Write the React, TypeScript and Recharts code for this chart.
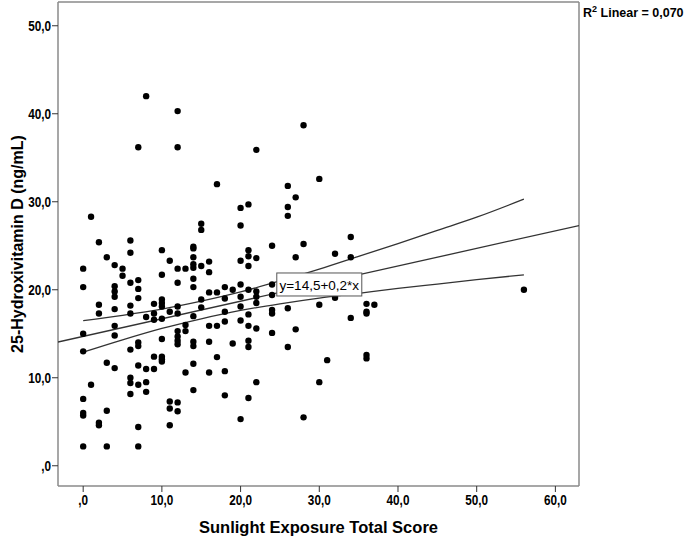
import React from 'react';
import { ScatterChart, Scatter, XAxis, YAxis, ReferenceLine, ReferenceDot, Label } from 'recharts';

const xTicks = [0, 10, 20, 30, 40, 50, 60];
const xTickLabels = [',0', '10,0', '20,0', '30,0', '40,0', '50,0', '60,0'];
const yTicks = [0, 10, 20, 30, 40, 50];
const yTickLabels = [',0', '10,0', '20,0', '30,0', '40,0', '50,0'];

const sunlightScore = [
  0, 0, 0, 0, 0, 0, 0, 0,
  1, 1,
  2, 2, 2, 2, 2,
  3, 3, 3, 3,
  4, 4, 4, 4, 4, 4, 4, 4,
  5, 5,
  6, 6, 6, 6, 6, 6, 6, 6, 6,
  7, 7, 7, 7, 7, 7, 7, 7, 7, 7,
  8, 8, 8, 8, 8,
  9, 9, 9, 9, 9,
  10, 10, 10, 10, 10, 10, 10, 10, 10, 10,
  11, 11, 11, 11, 11,
  12, 12, 12, 12, 12, 12, 12, 12, 12, 12, 12, 12,
  13, 13, 13, 13,
  14, 14, 14, 14, 14, 14, 14, 14, 14, 14, 14, 14,
  15, 15, 15, 15, 15,
  16, 16, 16, 16, 16, 16,
  17, 17, 17, 17,
  18, 18, 18, 18, 18, 18,
  19, 19,
  20, 20, 20, 20, 20, 20, 20, 20,
  21, 21, 21, 21, 21, 21, 21, 21, 21, 21,
  22, 22, 22, 22, 22, 22, 22,
  24, 24, 24, 24, 24, 24,
  26, 26, 26, 26, 26,
  27, 27, 27,
  28, 28, 28,
  30, 30, 30,
  31,
  32, 32,
  34, 34, 34,
  36, 36, 36, 36, 36,
  37,
  56,
];

const vitaminD = [
  22.4, 20.3, 15.0, 13.0, 7.6, 6.0, 5.7, 2.2,
  28.3, 9.2,
  25.4, 18.3, 17.3, 4.9, 4.6,
  23.7, 11.7, 6.25, 2.2,
  22.8, 20.4, 19.8, 19.2, 17.8, 15.9, 14.8, 11.1,
  22.4, 21.6,
  25.6, 24.2, 20.8, 18.2, 17.3, 13.2, 10.0, 9.4, 8.15,
  36.2, 21.1, 20.1, 19.05, 14.0, 13.6, 11.4, 9.2, 4.4, 2.2,
  42.0, 16.9, 11.0, 9.5, 8.4,
  18.4, 17.3, 16.6, 12.4, 11.0,
  24.5, 21.7, 18.9, 18.5, 18.1, 16.7, 14.4, 12.4, 12.1, 11.85,
  23.3, 17.5, 7.3, 6.5, 4.6,
  40.3, 36.2, 22.4, 20.8, 18.1, 17.3, 15.3, 14.7, 14.2, 13.8, 7.2, 6.2,
  22.4, 16.0, 15.3, 10.6,
  24.9, 24.7, 23.7, 22.9, 22.5, 21.25, 20.3, 17.0, 14.1, 13.6, 11.6, 8.6,
  27.5, 26.8, 22.7, 18.9, 18.0,
  23.2, 22.0, 19.7, 15.9, 14.1, 10.6,
  32.0, 19.7, 15.9, 12.35,
  20.3, 19.0, 17.5, 16.4, 10.75, 8.0,
  20.0, 13.9,
  29.3, 27.3, 23.3, 20.6, 19.2, 18.1, 16.5, 5.3,
  29.7, 24.5, 23.8, 22.7, 20.0, 17.2, 15.9, 14.2, 13.5, 7.7,
  35.9, 23.6, 19.8, 19.2, 18.5, 15.6, 9.5,
  25.0, 20.6, 19.4, 17.7, 17.3, 15.1,
  31.8, 29.4, 28.4, 17.9, 13.5,
  30.5, 23.7, 15.5,
  38.7, 25.2, 5.5,
  32.6, 18.3, 9.5,
  12.0,
  24.1, 19.1,
  26.0, 23.7, 16.8,
  18.4, 17.5, 17.3, 12.6, 12.2,
  18.3,
  20.0,
];

const fitX = [-3.2, 63];
const fitY = [14.06, 27.3];

const ciX = [0, 5, 10, 15, 20, 25, 30, 35, 40, 45, 50, 56];
const ciUpper = [16.5, 17.1, 17.8, 18.7, 19.75, 21.0, 22.35, 23.8, 25.25, 26.75, 28.25, 30.3];
const ciLower = [12.9, 14.3, 15.6, 16.7, 17.65, 18.4, 19.05, 19.6, 20.15, 20.65, 21.15, 21.7];

const X_MIN = -3.2;
const X_MAX = 63;
const Y_MIN = -2.3;
const Y_MAX = 52.7;

const points = sunlightScore.map((x, i) => ({ x, y: vitaminD[i] }));
const fitData = fitX.map((x, i) => ({ x, y: fitY[i] }));
const upperData = ciX.map((x, i) => ({ x, y: ciUpper[i] }));
const lowerData = ciX.map((x, i) => ({ x, y: ciLower[i] }));

const FONT = '"Liberation Sans", Arial, sans-serif';
const FRAME = '#8a8a8a';
const LINE = '#333333';

const noShape = () => <g />;
const dotShape = (p: any) => <circle cx={p.cx} cy={p.cy} r={3.2} fill="#000" />;

const XTick = (props: any) => {
  const { x, y, payload } = props;
  const label = xTickLabels[xTicks.indexOf(payload.value)] ?? '';
  return (
    <g transform={`translate(${x},${y + 6})`}>
      <text
        transform="scale(0.84,1)"
        textAnchor="middle"
        dominantBaseline="central"
        fontFamily={FONT}
        fontWeight="bold"
        fontSize={14}
        fill="#000"
      >
        {label}
      </text>
    </g>
  );
};

const YTick = (props: any) => {
  const { x, y, payload } = props;
  const label = yTickLabels[yTicks.indexOf(payload.value)] ?? '';
  return (
    <g transform={`translate(${x + 1},${y})`}>
      <text
        transform="scale(0.84,1)"
        textAnchor="end"
        dominantBaseline="central"
        fontFamily={FONT}
        fontWeight="bold"
        fontSize={14}
        fill="#000"
      >
        {label}
      </text>
    </g>
  );
};

const renderYTitle = (props: any) => {
  const vb = props.viewBox || { x: 0, y: 0, width: 0, height: 0 };
  const cx = vb.x + 17;
  const cy = vb.y + vb.height / 2;
  return (
    <g>
      <text
        x={cx}
        y={cy}
        transform={`rotate(-90, ${cx}, ${cy})`}
        textAnchor="middle"
        dominantBaseline="central"
        fontFamily={FONT}
        fontWeight="bold"
        fontSize={16}
        fill="#000"
      >
        25-Hydroxivitamin D (ng/mL)
      </text>
      <text x={583} y={17} fontFamily={FONT} fontWeight="bold" fontSize={12.5} fill="#000">
        R<tspan dy={-5} fontSize={9}>2</tspan>
        <tspan dy={5}> Linear = 0,070</tspan>
      </text>
    </g>
  );
};

const renderXTitle = (props: any) => {
  const vb = props.viewBox || { x: 0, y: 0, width: 0, height: 0 };
  return (
    <text
      x={vb.x + vb.width / 2}
      y={vb.y + 47}
      textAnchor="middle"
      fontFamily={FONT}
      fontWeight="bold"
      fontSize={16.5}
      fill="#000"
    >
      Sunlight Exposure Total Score
    </text>
  );
};

const renderEquation = (props: any) => {
  const vb = props.viewBox || { x: 0, y: 0, width: 0, height: 0 };
  const cx = vb.x + (vb.width || 0) / 2;
  const cy = vb.y + (vb.height || 0) / 2;
  const w = 85;
  const h = 23;
  return (
    <g>
      <rect x={cx - w / 2} y={cy - h / 2} width={w} height={h} fill="#fff" stroke="#555" strokeWidth={1} />
      <text
        x={cx}
        y={cy + 1}
        textAnchor="middle"
        dominantBaseline="central"
        fontFamily={FONT}
        fontSize={13.5}
        fill="#000"
      >
        y=14,5+0,2*x
      </text>
    </g>
  );
};

export default function App() {
  return (
    <div style={{ position: 'absolute', left: 0, top: 0, width: 685, height: 541, background: '#fff' }}>
      <ScatterChart width={685} height={541} margin={{ top: 2, right: 106, bottom: 0, left: 0 }}>
        <XAxis
          type="number"
          dataKey="x"
          domain={[X_MIN, X_MAX]}
          allowDataOverflow
          ticks={xTicks}
          height={55}
          axisLine={{ stroke: FRAME, strokeWidth: 1.5 }}
          tickLine={{ stroke: '#333' }}
          tickSize={6}
          tick={<XTick />}
          interval={0}
        >
          <Label content={renderXTitle} />
        </XAxis>
        <YAxis
          type="number"
          dataKey="y"
          domain={[Y_MIN, Y_MAX]}
          allowDataOverflow
          ticks={yTicks}
          width={58}
          axisLine={{ stroke: FRAME, strokeWidth: 1.5 }}
          tickLine={{ stroke: '#333' }}
          tickSize={6}
          tick={<YTick />}
          interval={0}
        >
          <Label content={renderYTitle} />
        </YAxis>
        <ReferenceLine y={Y_MAX} stroke={FRAME} strokeWidth={1.5} />
        <ReferenceLine x={X_MAX} stroke={FRAME} strokeWidth={1.5} />
        <Scatter data={fitData} line={{ stroke: LINE, strokeWidth: 1.3 }} shape={noShape} isAnimationActive={false} />
        <Scatter
          data={upperData}
          line={{ stroke: LINE, strokeWidth: 1.3 }}
          lineType="joint"
          lineJointType="monotoneX"
          shape={noShape}
          isAnimationActive={false}
        />
        <Scatter
          data={lowerData}
          line={{ stroke: LINE, strokeWidth: 1.3 }}
          lineType="joint"
          lineJointType="monotoneX"
          shape={noShape}
          isAnimationActive={false}
        />
        <Scatter data={points} shape={dotShape} isAnimationActive={false} />
        <ReferenceDot x={30} y={20.6} r={0} fill="none" stroke="none" label={<Label content={renderEquation} />} />
      </ScatterChart>
    </div>
  );
}
